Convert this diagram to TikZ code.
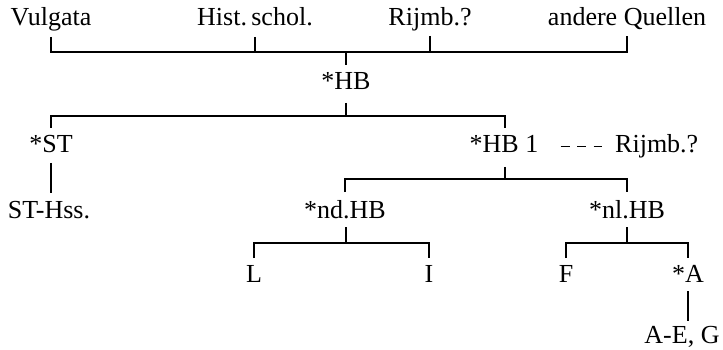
\documentclass[tikz,border=0pt]{standalone}
\usepackage{fontspec}
\setmainfont{Liberation Serif}
\begin{document}
\begin{tikzpicture}[x=1pt,y=-1pt,
  lbl/.style={inner sep=0pt,anchor=base,font=\fontsize{26}{30}\selectfont},
  link/.style={line width=1.7pt,line cap=butt}]
\useasboundingbox (0,0) rectangle (723,350);

% sources
\node[lbl] (vulg) at (51,26)  {Vulgata};
\node[lbl] (hist) at (255,26) {Hist.\,schol.};
\node[lbl] (rij)  at (430,26) {Rijmb.?};
\node[lbl] (quel) at (627,26) {andere Quellen};

% stemma
\node[lbl] (hb)   at (346,90)  {*HB};
\node[lbl] (st)   at (51,153)  {*ST};
\node[lbl] (hb1)  at (504,153) {*HB 1};
\node[lbl,anchor=base west] (rij2) at (615,153) {Rijmb.?};
\node[lbl] (sths) at (49,218)  {ST-Hss.};
\node[lbl] (ndhb) at (345,218) {*nd.HB};
\node[lbl] (nlhb) at (627,218) {*nl.HB};
\node[lbl] (L)    at (254,282) {L};
\node[lbl] (I)    at (429,282) {I};
\node[lbl] (F)    at (566,282) {F};
\node[lbl] (A)    at (688,282) {*A};
\node[lbl] (aeg)  at (682,343) {A-E, G};

% junction points of the brackets
\coordinate (j1) at (346,52);
\coordinate (j2) at (346,116);
\coordinate (j3) at (505,179);
\coordinate (j4) at (346,243);
\coordinate (j5) at (627,243);

% sources -> *HB
\draw[link] ([yshift=-11pt]vulg.base) |- (j1) -| ([yshift=-10pt]quel.base);
\draw[link] ([yshift=-11pt]hist.base) -- (hist.base |- j1);
\draw[link] ([yshift=-10pt]rij.base) -- (rij.base |- j1);
\draw[link] (j1) -- ([yshift=25pt]hb.base);

% *HB -> *ST, *HB 1
\draw[link] ([yshift=-13pt]hb.base) -- (j2);
\draw[link] ([yshift=25pt]st.base) |- (j2) -| ([yshift=25pt]hb1.base -| j3);

% *ST -> ST-Hss.
\draw[link] ([yshift=-10pt]st.base) -- ([yshift=25pt]st.base |- sths.base);

% *HB 1 - - - Rijmb.?
\draw[link,dash pattern=on 9pt off 7.5pt,shorten <=22pt,shorten >=13pt]
  ([yshift=6.5pt]hb1.base east) -- ([yshift=6.5pt]rij2.base west);

% *HB 1 -> *nd.HB, *nl.HB
\draw[link] ([yshift=-14pt]hb1.base -| j3) -- (j3);
\draw[link] ([yshift=26pt]ndhb.base) |- (j3) -| ([yshift=26pt]nlhb.base);

% *nd.HB -> L, I
\draw[link] ([yshift=-9pt]ndhb.base -| j4) -- (j4);
\draw[link] ([yshift=24pt]L.base) |- (j4) -| ([yshift=24pt]I.base);

% *nl.HB -> F, *A
\draw[link] ([yshift=-9pt]nlhb.base) -- (j5);
\draw[link] ([yshift=24pt]F.base) |- (j5) -| ([yshift=24pt]A.base);

% *A -> A-E, G
\draw[link] ([yshift=-9pt]A.base) -- ([yshift=22pt]A.base |- aeg.base);
\end{tikzpicture}
\end{document}
